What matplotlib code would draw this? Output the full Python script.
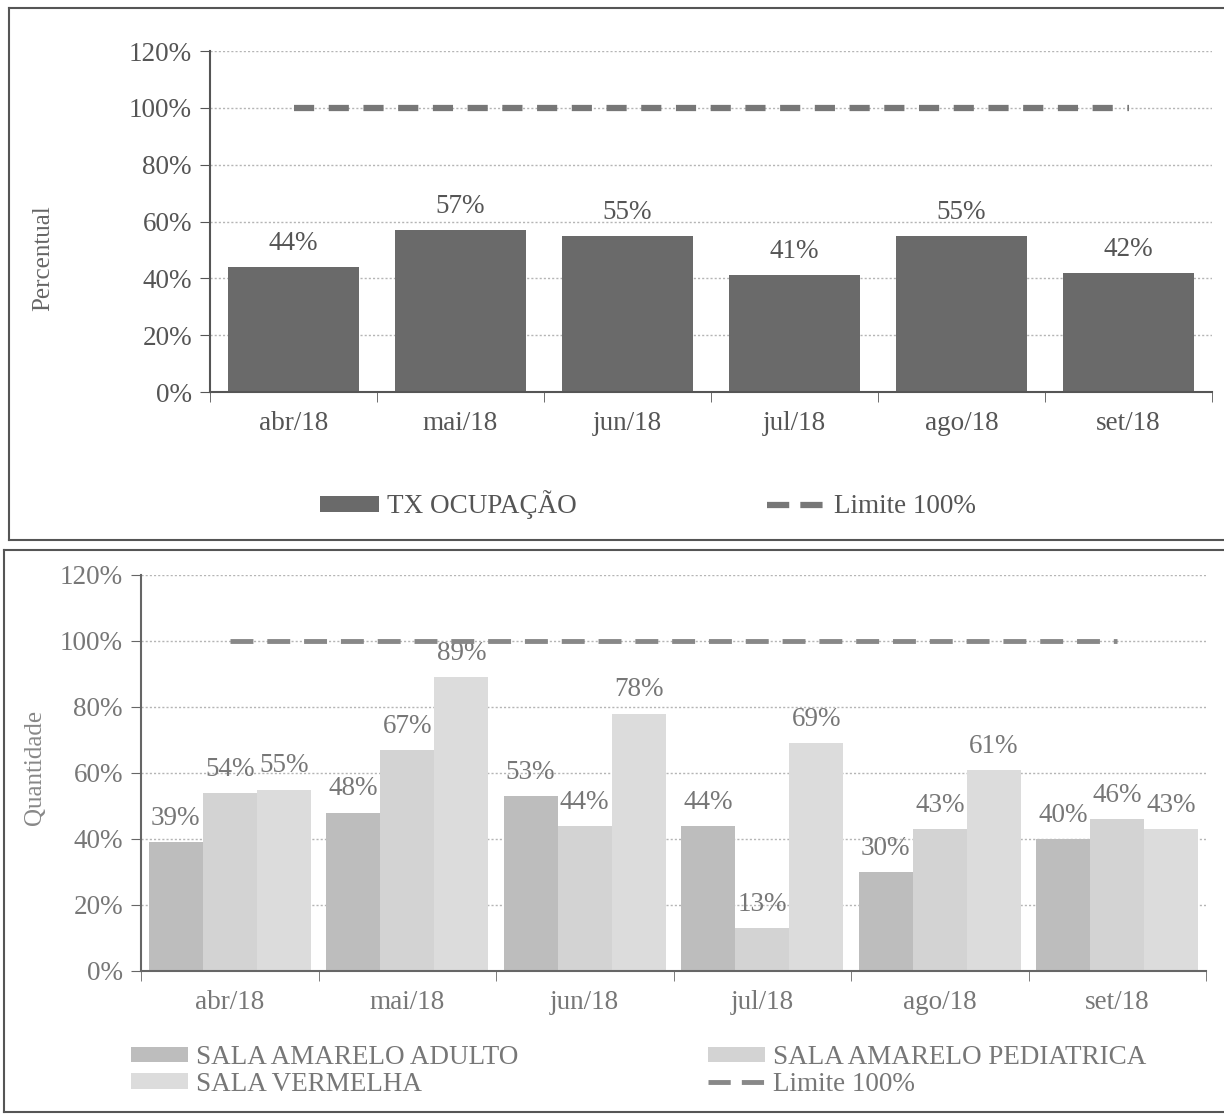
import matplotlib
matplotlib.use("Agg")
import matplotlib.pyplot as plt
from matplotlib.patches import Patch
from matplotlib.lines import Line2D

plt.rcParams['font.family'] = ['Liberation Serif', 'DejaVu Serif']
plt.rcParams['lines.scale_dashes'] = False

months = ['abr/18', 'mai/18', 'jun/18', 'jul/18', 'ago/18', 'set/18']
tx_ocupacao = [44, 57, 55, 41, 55, 42]
limite = [100, 100, 100, 100, 100, 100]

adulto = [39, 48, 53, 44, 30, 40]
pediatrica = [54, 67, 44, 13, 43, 46]
vermelha = [55, 89, 78, 69, 61, 43]

yticks = [0, 20, 40, 60, 80, 100, 120]
ytick_labels = ['0%', '20%', '40%', '60%', '80%', '100%', '120%']

W, H = 1224, 1115
fig = plt.figure(figsize=(W / 100, H / 100), dpi=100)
FS = 19.5


def px_box(x0, y0, x1, y1):
    # pixel coords (top-left origin) -> figure fraction rect
    return [x0 / W, 1 - y1 / H, (x1 - x0) / W, (y1 - y0) / H]


def style_axes(ax, tick_color, spine_color):
    x = list(range(len(months)))
    ax.set_xlim(-0.5, len(months) - 0.5)
    ax.set_ylim(0, 120)
    ax.set_yticks(yticks)
    ax.set_yticklabels(ytick_labels, fontsize=FS, color=tick_color)
    ax.set_xticks(x)
    ax.set_xticklabels(months, fontsize=FS, color=tick_color)
    ax.set_xticks([i - 0.5 for i in range(len(months) + 1)], minor=True)
    ax.tick_params(axis='x', which='major', length=0, pad=14)
    ax.tick_params(axis='x', which='minor', length=7, color=spine_color, direction='out')
    ax.tick_params(axis='y', length=7, color=spine_color, pad=6)
    ax.grid(axis='y', linestyle=(0, (1.5, 1.5)), color='#b5b5b5', linewidth=1)
    ax.set_axisbelow(True)
    for s in ['top', 'right']:
        ax.spines[s].set_visible(False)
    for s in ['left', 'bottom']:
        ax.spines[s].set_color(spine_color)
        ax.spines[s].set_linewidth(1.5)


# ---- top chart ----
ax1 = fig.add_axes(px_box(210, 51, 1212, 392))
style_axes(ax1, '#555555', '#555555')
x = list(range(len(months)))
bars = ax1.bar(x, tx_ocupacao, width=0.79, color='#6a6a6a', zorder=2)
for b, v in zip(bars, tx_ocupacao):
    ax1.annotate(f'{v}%', (b.get_x() + b.get_width() / 2, v), xytext=(0, 17),
                 textcoords='offset points', ha='center', va='center',
                 fontsize=FS, color='#555555')
ax1.plot(x, limite, color='#777777', linewidth=4.5, dashes=(14.5, 10.5), zorder=3)
fig.text(43 / W, 1 - 258 / H, 'Percentual', rotation=90, ha='center', va='center',
         fontsize=18, color='#666666')

h1 = [Patch(facecolor='#6a6a6a'),
      Line2D([], [], color='#777777', linewidth=4.5, dashes=(16, 8))]
fig.legend(h1, ['TX OCUPAÇÃO', 'Limite 100%'], loc='center', ncol=2,
           bbox_to_anchor=(648 / W, 1 - 505 / H), frameon=False, fontsize=FS,
           handlelength=2.2, handleheight=0.5, handletextpad=0.3, columnspacing=7.0,
           labelcolor='#555555')

# ---- bottom chart ----
ax2 = fig.add_axes(px_box(141, 575, 1206, 971))
style_axes(ax2, '#777777', '#666666')
bw = 0.305
series = [(adulto, '#bdbdbd', -bw), (pediatrica, '#d3d3d3', 0), (vermelha, '#dcdcdc', bw)]
for vals, col, off in series:
    bs = ax2.bar([i + off for i in x], vals, width=bw, color=col, zorder=2)
    for b, v in zip(bs, vals):
        ax2.annotate(f'{v}%', (b.get_x() + b.get_width() / 2, v), xytext=(0, 17),
                     textcoords='offset points', ha='center', va='center',
                     fontsize=FS, color='#777777')
ax2.plot(x, limite, color='#888888', linewidth=3.5, dashes=(16.5, 10), zorder=3)
fig.text(35 / W, 1 - 767 / H, 'Quantidade', rotation=90, ha='center', va='center',
         fontsize=18, color='#888888')

h2 = [Patch(facecolor='#bdbdbd'), Patch(facecolor='#dcdcdc'),
      Patch(facecolor='#d3d3d3'),
      Line2D([], [], color='#888888', linewidth=3.5, dashes=(16, 8))]
fig.legend(h2, ['SALA AMARELO ADULTO', 'SALA VERMELHA', 'SALA AMARELO PEDIATRICA', 'Limite 100%'],
           loc='center', ncol=2, bbox_to_anchor=(639 / W, 1 - 1071 / H), frameon=False,
           fontsize=FS, handlelength=2.1, handleheight=0.5, handletextpad=0.3,
           columnspacing=7.0, labelspacing=0.05, labelcolor='#777777')

# panel borders
for (x0, y0, x1, y1) in [(9, 8, 1223, 540), (4, 550, 1223, 1112)]:
    fig.add_artist(Line2D([x0 / W, x1 / W], [1 - y0 / H, 1 - y0 / H], color='#555555', lw=1.5))
    fig.add_artist(Line2D([x0 / W, x0 / W], [1 - y0 / H, 1 - y1 / H], color='#555555', lw=1.5))
    fig.add_artist(Line2D([x0 / W, x1 / W], [1 - y1 / H, 1 - y1 / H], color='#555555', lw=1.5))

fig.savefig('out.png', dpi=100)
